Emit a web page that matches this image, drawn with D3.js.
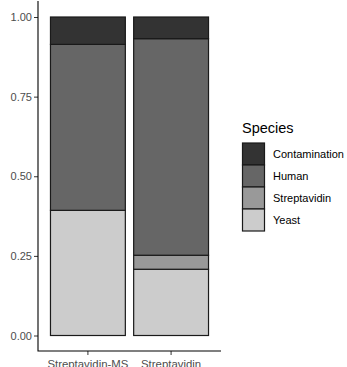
<!DOCTYPE html>
<html>
<head>
<meta charset="utf-8">
<script src="https://cdn.jsdelivr.net/npm/d3@7"></script>
<style>
  body { margin: 0; background: #fff; }
  svg { display: block; font-family: "Liberation Sans", Arial, sans-serif; }
</style>
</head>
<body>
<svg id="chart" width="347" height="367"></svg>
<script>
// values (proportions per sample)
const categories = ['Streptavidin-MS', 'Streptavidin'];
const species = ['Contamination', 'Human', 'Streptavidin', 'Yeast'];
const yeast = [0.393, 0.208];
const streptavidin = [0.0, 0.044];
const human = [0.521, 0.680];
const contamination = [0.086, 0.068];
const yTicks = [0, 0.25, 0.5, 0.75, 1];
const greys = ['#333333', '#666666', '#999999', '#cccccc'];

const rows = categories.map((c, i) => ({
  sample: c,
  Yeast: yeast[i],
  Streptavidin: streptavidin[i],
  Human: human[i],
  Contamination: contamination[i],
}));

const svg = d3.select('#chart');
const panel = { left: 38, right: 221, top: 1, bottom: 351 };

const x = d3
  .scaleBand()
  .domain(categories)
  .range([panel.left, panel.right])
  .paddingInner(0.1)
  .paddingOuter(0.15);

const y = d3.scaleLinear().domain([0, 1]).range([335.5, 17]);

const fill = d3.scaleOrdinal().domain(species).range(greys);

// bottom-up stacking: Yeast first, Contamination on top
const stack = d3.stack().keys(species.slice().reverse());
const layers = stack(rows);

svg
  .append('g')
  .selectAll('g')
  .data(layers)
  .join('g')
  .attr('fill', d => fill(d.key))
  .selectAll('rect')
  .data(d => d)
  .join('rect')
  .attr('x', d => x(d.data.sample))
  .attr('width', x.bandwidth())
  .attr('y', d => y(d[1]))
  .attr('height', d => y(d[0]) - y(d[1]))
  .attr('stroke', '#1a1a1a')
  .attr('stroke-width', 1.2);

// y axis
const yAxis = svg
  .append('g')
  .attr('transform', `translate(${panel.left},0)`)
  .call(
    d3
      .axisLeft(y)
      .tickValues(yTicks)
      .tickFormat(d3.format('.2f'))
      .tickSize(4)
      .tickPadding(2)
  );
yAxis.select('.domain').remove();
yAxis.selectAll('line').attr('stroke', '#333');
yAxis
  .selectAll('text')
  .attr('fill', '#4d4d4d')
  .style('font-size', '11px');

// x axis
const xAxis = svg
  .append('g')
  .attr('transform', `translate(0,${panel.bottom})`)
  .call(d3.axisBottom(x).tickSize(4).tickPadding(5));
xAxis.select('.domain').remove();
xAxis.selectAll('line').attr('stroke', '#333');
xAxis
  .selectAll('text')
  .attr('fill', '#4d4d4d')
  .style('font-size', '11.4px');

// axis lines
svg
  .append('path')
  .attr('d', `M${panel.left},${panel.top}V${panel.bottom}H${panel.right}`)
  .attr('fill', 'none')
  .attr('stroke', '#000')
  .attr('stroke-width', 1.1);

// legend
const legend = svg.append('g').attr('transform', 'translate(242,133)');
legend
  .append('text')
  .text('Species')
  .attr('x', 0)
  .attr('y', 0)
  .style('font-size', '14.5px')
  .attr('fill', '#000');

const keys = legend
  .selectAll('.key')
  .data(species)
  .join('g')
  .attr('class', 'key')
  .attr('transform', (d, i) => `translate(0,${10 + i * 22})`);

keys
  .append('rect')
  .attr('x', 0.5)
  .attr('y', 0)
  .attr('width', 22)
  .attr('height', 22)
  .attr('fill', d => fill(d))
  .attr('stroke', '#1a1a1a')
  .attr('stroke-width', 1.2);

keys
  .append('text')
  .text(d => d)
  .attr('x', 31)
  .attr('y', 11)
  .attr('dy', '0.35em')
  .style('font-size', '11px')
  .attr('fill', '#000');
</script>
</body>
</html>
